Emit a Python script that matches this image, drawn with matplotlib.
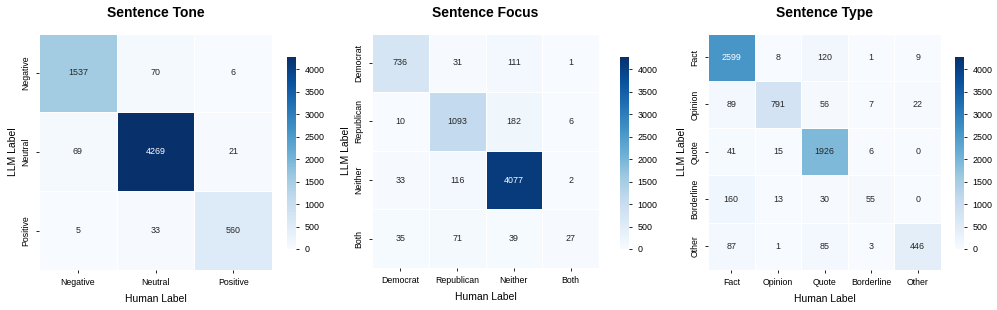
import numpy as np
import matplotlib
matplotlib.use("Agg")
import matplotlib.pyplot as plt
import seaborn as sns

plt.rcParams['font.family'] = ['Liberation Sans', 'DejaVu Sans']

tone_labels = ["Negative", "Neutral", "Positive"]
tone_values = [[1537, 70, 6],
               [69, 4269, 21],
               [5, 33, 560]]

focus_labels = ["Democrat", "Republican", "Neither", "Both"]
focus_values = [[736, 31, 111, 1],
                [10, 1093, 182, 6],
                [33, 116, 4077, 2],
                [35, 71, 39, 27]]

type_labels = ["Fact", "Opinion", "Quote", "Borderline", "Other"]
type_values = [[2599, 8, 120, 1, 9],
               [89, 791, 56, 7, 22],
               [41, 15, 1926, 6, 0],
               [160, 13, 30, 55, 0],
               [87, 1, 85, 3, 446]]

titles = ["Sentence Tone", "Sentence Focus", "Sentence Type"]

W, H = 997, 310
fig = plt.figure(figsize=(W / 100, H / 100), dpi=100)

def frac(x0, y0, x1, y1):
    return [x0 / W, 1 - y1 / H, (x1 - x0) / W, (y1 - y0) / H]

ax_boxes = [frac(39, 33.5, 272, 270), frac(372, 33.5, 599, 268), frac(708, 33.5, 941, 270)]
cb_boxes = [frac(287, 57, 296, 249), frac(620, 57, 629, 249), frac(955, 57, 964, 249)]

vmax = max(np.max(tone_values), np.max(focus_values), np.max(type_values))

datasets = [(tone_values, tone_labels), (focus_values, focus_labels), (type_values, type_labels)]
for (vals, labs), title, ab, cbb in zip(datasets, titles, ax_boxes, cb_boxes):
    ax = fig.add_axes(ab)
    cax = fig.add_axes(cbb)
    sns.heatmap(np.array(vals), ax=ax, cbar_ax=cax, cmap="Blues", vmin=0, vmax=vmax,
                annot=True, fmt="d", annot_kws={"fontsize": 6.4},
                linewidths=0.5, linecolor="white",
                xticklabels=labs, yticklabels=labs)
    ax.set_title(title, fontsize=10, fontweight="bold", pad=12)
    ax.set_xlabel("Human Label", fontsize=7.5, labelpad=5)
    ax.set_ylabel("LLM Label", fontsize=7.5, labelpad=2.5)
    ax.tick_params(axis="both", labelsize=6.3, length=2.5, width=0.6)
    plt.setp(ax.get_yticklabels(), rotation=90, va="center")
    plt.setp(ax.get_xticklabels(), rotation=0)
    cax.tick_params(labelsize=6.4, length=2.5, width=0.6)
    cax.set_yticks([0, 500, 1000, 1500, 2000, 2500, 3000, 3500, 4000])

fig.savefig("out.png", dpi=100)
